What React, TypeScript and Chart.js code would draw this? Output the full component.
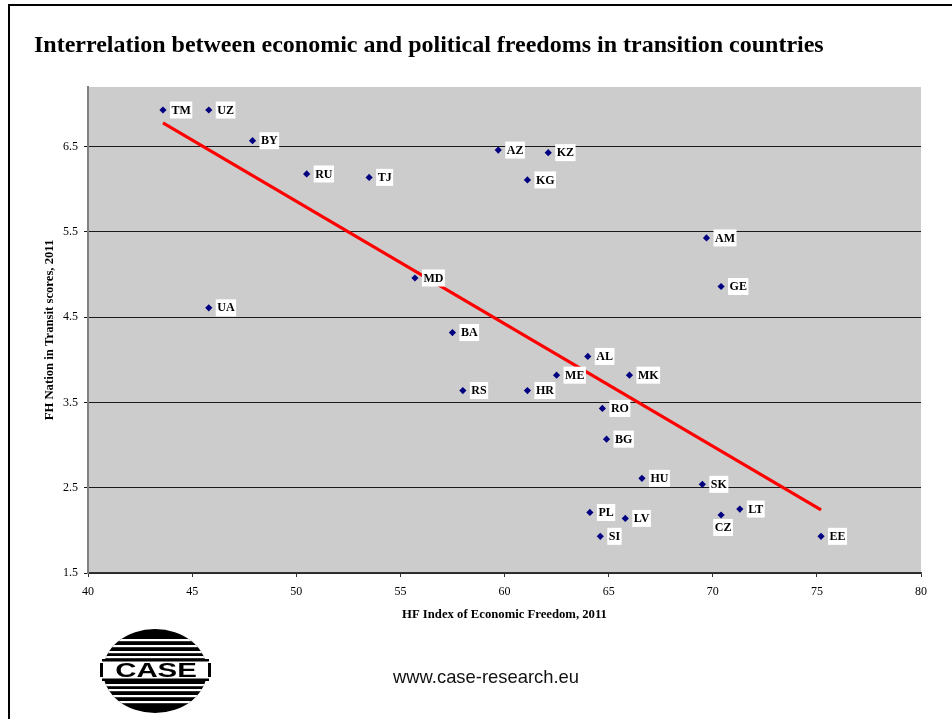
import { useEffect, useRef } from 'react';
import { Chart, registerables } from 'chart.js';

Chart.register(...registerables);

// Country codes with HF Index of Economic Freedom and FH Nations in Transit scores (2011)
const countryCodes = ['TM', 'UZ', 'BY', 'RU', 'TJ', 'AZ', 'KZ', 'KG', 'AM', 'GE', 'MD', 'UA', 'BA', 'AL', 'ME', 'MK', 'RS', 'HR', 'RO', 'BG', 'HU', 'SK', 'PL', 'LV', 'CZ', 'LT', 'SI', 'EE'];
const econFreedom = [43.6, 45.8, 47.9, 50.5, 53.5, 59.7, 62.1, 61.1, 69.7, 70.4, 55.7, 45.8, 57.5, 64.0, 62.5, 66.0, 58.0, 61.1, 64.7, 64.9, 66.6, 69.5, 64.1, 65.8, 70.4, 71.3, 64.6, 75.2];
const nitScores = [6.93, 6.93, 6.57, 6.18, 6.14, 6.46, 6.43, 6.11, 5.43, 4.86, 4.96, 4.61, 4.32, 4.04, 3.82, 3.82, 3.64, 3.64, 3.43, 3.07, 2.61, 2.54, 2.21, 2.14, 2.18, 2.25, 1.93, 1.93];

// Linear trend line end points
const trendX = [43.6, 75.2];
const trendY = [6.78, 2.24];

const xTicks = [40, 45, 50, 55, 60, 65, 70, 75, 80];
const yTicks = [1.5, 2.5, 3.5, 4.5, 5.5, 6.5];

const titleText = 'Interrelation between economic and political freedoms in transition countries';
const xTitle = 'HF Index of Economic Freedom, 2011';
const yTitle = 'FH Nation in Transit scores, 2011';
const siteUrl = 'www.case-research.eu';
const logoText = 'CASE';

// Labels placed under their marker instead of to the right
const labelsBelow = new Set(['CZ']);

const SERIF = '"Liberation Serif", "Times New Roman", serif';
const SANS = '"Liberation Sans", Arial, sans-serif';

const W = 952;
const H = 719;

const backgroundPlugin = {
  id: 'pageBackground',
  beforeDraw(chart: any) {
    const { ctx, chartArea } = chart;
    ctx.save();
    ctx.fillStyle = '#ffffff';
    ctx.fillRect(0, 0, W, H);
    // page frame
    ctx.fillStyle = '#000000';
    ctx.fillRect(8, 4, W - 8, 2);
    ctx.fillRect(8, 4, 2, H - 4);
    // plot area
    ctx.fillStyle = '#cccccc';
    ctx.fillRect(chartArea.left, chartArea.top, chartArea.right - chartArea.left, chartArea.bottom - chartArea.top);
    ctx.restore();
  },
};

const pointLabelPlugin = {
  id: 'pointLabels',
  afterDatasetsDraw(chart: any) {
    const { ctx } = chart;
    const xs = chart.scales.x;
    const ys = chart.scales.y;
    ctx.save();
    ctx.font = `bold 12px ${SERIF}`;
    ctx.textBaseline = 'middle';
    countryCodes.forEach((code, i) => {
      const px = xs.getPixelForValue(econFreedom[i]);
      const py = ys.getPixelForValue(nitScores[i]);
      const tw = ctx.measureText(code).width;
      const bw = tw + 3;
      const bh = 17;
      let bx: number;
      let by: number;
      if (labelsBelow.has(code)) {
        bx = px + 2 - bw / 2;
        by = py + 4;
      } else {
        bx = px + 7;
        by = py - bh / 2;
      }
      ctx.fillStyle = '#ffffff';
      ctx.fillRect(bx, by, bw, bh);
      ctx.fillStyle = '#000000';
      ctx.textAlign = 'left';
      ctx.fillText(code, bx + 1.5, by + bh / 2 + 0.5);
    });
    ctx.restore();
  },
};

function drawLogo(ctx: CanvasRenderingContext2D, cx: number, cy: number, rx: number, ry: number) {
  ctx.save();
  // striped ellipse
  ctx.beginPath();
  ctx.ellipse(cx, cy, rx, ry, 0, 0, Math.PI * 2);
  ctx.closePath();
  ctx.save();
  ctx.clip();
  ctx.fillStyle = '#000000';
  ctx.fillRect(cx - rx, cy - ry, rx * 2, ry * 2);
  ctx.fillStyle = '#ffffff';
  const stripes = [-31, -25, -19, -14, 14, 19, 25, 31];
  stripes.forEach((dy) => {
    ctx.fillRect(cx - rx, cy + dy - 1, rx * 2, 2.2);
  });
  ctx.restore();
  // central band with the name
  const bandL = cx - rx - 3;
  const bandR = cx + rx + 4;
  const bandT = cy - 12;
  const bandB = cy + 10;
  ctx.fillStyle = '#ffffff';
  ctx.fillRect(bandL, bandT, bandR - bandL, bandB - bandT);
  ctx.fillStyle = '#000000';
  ctx.fillRect(bandL + 2, bandT, bandR - bandL - 4, 2.5);
  ctx.fillRect(bandL + 2, bandB - 2.5, bandR - bandL - 4, 2.5);
  ctx.fillRect(bandL, bandT + 4, 3, bandB - bandT - 8);
  ctx.fillRect(bandR - 3, bandT + 4, 3, bandB - bandT - 8);
  ctx.font = `bold 21px ${SANS}`;
  ctx.textAlign = 'center';
  ctx.textBaseline = 'middle';
  ctx.save();
  ctx.translate(cx + 1, cy);
  ctx.scale(1.4, 1);
  ctx.fillText(logoText, 0, 0);
  ctx.restore();
  ctx.restore();
}

const decorationPlugin = {
  id: 'pageDecorations',
  afterDraw(chart: any) {
    const { ctx } = chart;
    ctx.save();
    ctx.fillStyle = '#000000';
    ctx.font = `bold 24px ${SERIF}`;
    ctx.textAlign = 'left';
    ctx.textBaseline = 'alphabetic';
    ctx.fillText(titleText, 34, 52);

    ctx.font = `18.4px ${SANS}`;
    ctx.fillStyle = '#111111';
    ctx.fillText(siteUrl, 393, 683);

    drawLogo(ctx, 155, 671, 52, 42);
    ctx.restore();
  },
};

export default function App() {
  const canvasRef = useRef<HTMLCanvasElement | null>(null);

  useEffect(() => {
    const canvas = canvasRef.current;
    if (!canvas) return;
    const chart = new Chart(canvas, {
      type: 'scatter',
      data: {
        datasets: [
          {
            label: 'Countries',
            data: econFreedom.map((x, i) => ({ x, y: nitScores[i] })),
            backgroundColor: '#000080',
            borderColor: '#000080',
            borderWidth: 0,
            pointStyle: 'rectRot',
            pointRadius: 3.6,
            pointHoverRadius: 3.6,
          },
          {
            label: 'Trend',
            type: 'line',
            data: trendX.map((x, i) => ({ x, y: trendY[i] })),
            borderColor: '#ff0000',
            backgroundColor: '#ff0000',
            borderWidth: 3.2,
            pointRadius: 0,
            showLine: true,
            fill: false,
          } as any,
        ],
      },
      options: {
        responsive: false,
        animation: false,
        devicePixelRatio: 1,
        layout: { padding: { left: 38, top: 87, right: 31, bottom: 96 } },
        plugins: {
          legend: { display: false },
          tooltip: { enabled: false },
          title: { display: false },
        },
        scales: {
          x: {
            type: 'linear',
            min: 40,
            max: 80,
            afterBuildTicks: (scale: any) => {
              scale.ticks = xTicks.map((value) => ({ value }));
            },
            afterFit: (scale: any) => {
              scale.height = 50;
            },
            grid: {
              drawOnChartArea: false,
              drawTicks: true,
              tickLength: 4,
              color: '#333333',
              lineWidth: 1,
            },
            border: { display: true, color: '#333333', width: 1.5 },
            ticks: {
              padding: 8,
              color: '#000000',
              font: { family: SERIF, size: 12 },
              maxRotation: 0,
              callback: (v: any) => String(v),
            },
            title: {
              display: true,
              text: xTitle,
              color: '#000000',
              font: { family: SERIF, size: 12.7, weight: 'bold' },
              padding: { top: 0, bottom: 0.4 },
            },
          },
          y: {
            type: 'linear',
            min: 1.5,
            max: 7.2,
            afterBuildTicks: (scale: any) => {
              scale.ticks = yTicks.map((value) => ({ value }));
            },
            afterFit: (scale: any) => {
              scale.width = 50;
            },
            grid: {
              drawOnChartArea: true,
              drawTicks: true,
              tickLength: 4,
              color: '#1a1a1a',
              lineWidth: 1,
            },
            border: { display: true, color: '#808080', width: 2 },
            ticks: {
              padding: 6,
              color: '#000000',
              font: { family: SERIF, size: 12 },
              callback: (v: any) => Number(v).toFixed(1),
            },
            title: {
              display: true,
              text: yTitle,
              color: '#000000',
              font: { family: SERIF, size: 12.7, weight: 'bold' },
              padding: { top: 4.4, bottom: 0 },
            },
          },
        },
      },
      plugins: [backgroundPlugin, pointLabelPlugin, decorationPlugin],
    });
    return () => chart.destroy();
  }, []);

  return (
    <div style={{ position: 'fixed', left: 0, top: 0, width: W, height: H, background: '#ffffff' }}>
      <canvas ref={canvasRef} width={W} height={H} style={{ display: 'block', width: W, height: H }} />
    </div>
  );
}
